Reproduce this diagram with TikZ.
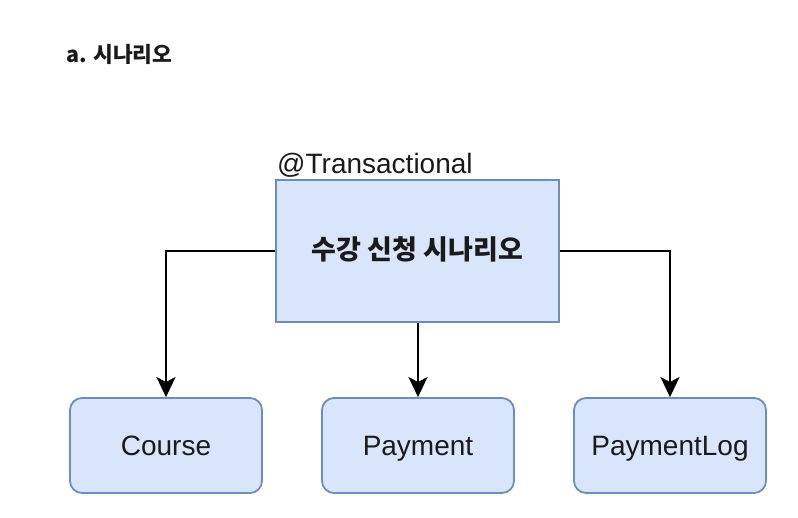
\documentclass[tikz,border=0pt]{standalone}
\usepackage{fontspec}
\setmainfont{Liberation Sans}
\newfontfamily\krfont{Noto Sans CJK KR}
\usetikzlibrary{arrows.meta}
\definecolor{boxfill}{HTML}{D9E5FA}
\definecolor{boxline}{HTML}{6C8EBF}
\definecolor{textdark}{HTML}{1A1A1A}

\begin{document}
\begin{tikzpicture}[x=1pt, y=-1pt, >={Stealth[length=20pt, width=19pt, inset=5pt]},
    caja/.style={draw=boxline, fill=boxfill, line width=1.8pt, inner sep=0pt,
      minimum width=192pt, minimum height=95pt, rounded corners=12pt,
      text=textdark, text height=20pt, text depth=0pt,
      font=\fontsize{28}{32}\selectfont},
    flecha/.style={->, line width=2.4pt, black}]
    \useasboundingbox (0,0) rectangle (798,518);

    % Titulo
    \node[anchor=base west, inner sep=0pt, text=textdark,
      font=\krfont\bfseries\fontsize{21.5}{24}\selectfont] (titulo) at (66,63) {a. 시나리오};

    % Caja principal
    \node[caja, rounded corners=0pt, minimum width=283pt, minimum height=142pt,
      text height=18pt, font=\krfont\bfseries\fontsize{27}{30}\selectfont] (escenario) at (417.5,251) {수강 신청 시나리오};
    \node[anchor=base west, inner sep=0pt, text=textdark,
      font=\fontsize{28}{32}\selectfont] (anotacion) at (277,174) {@Transactional};

    % Cajas de abajo
    \node[caja] (course) at (166,445.5) {Course};
    \node[caja] (payment) at (418,445.5) {Payment};
    \node[caja] (paymentlog) at (670,445.5) {PaymentLog};

    % Flechas
    \draw[flecha] (escenario.west) -| (course.north);
    \draw[flecha] (escenario.south -| payment.north) -- (payment.north);
    \draw[flecha] (escenario.east) -| (paymentlog.north);
\end{tikzpicture}
\end{document}
